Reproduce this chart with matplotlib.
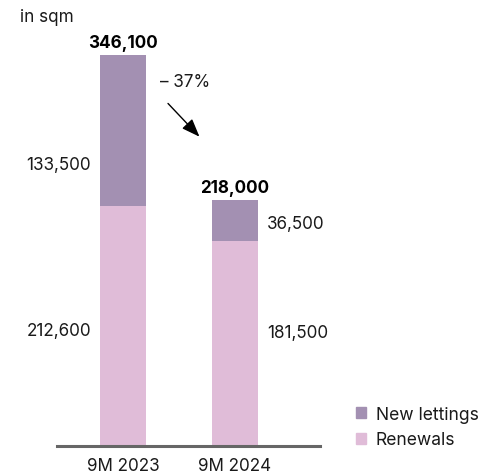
import matplotlib.pyplot as plt
from matplotlib.patches import Patch

plt.rcParams['font.family'] = ['Inter', 'DejaVu Sans']

# data
periods = ["9M 2023", "9M 2024"]
renewals = [212600, 181500]
new_lettings = [133500, 36500]
totals = [346100, 218000]
change_label = "\u2013 37%"

c_new = "#a390b2"
c_ren = "#e0bcd8"
txt = "#1a1a1a"
fs = 12.3

W, H = 482, 477
fig = plt.figure(figsize=(W / 100, H / 100), dpi=100)
# axes placed in pixel terms: baseline at y=447, left 57, right 320
ax = fig.add_axes([57 / W, (H - 447) / H, (320 - 57) / W, (447 - 20) / H])

x = [0, 1]
bw = 0.41
ax.bar(x, renewals, width=bw, color=c_ren, zorder=2)
ax.bar(x, new_lettings, width=bw, bottom=renewals, color=c_new, zorder=2)

ax.set_xlim(-0.589, 1.759)
ax.set_ylim(0, totals[0] * 427 / 391)

for s in ["top", "right", "left"]:
    ax.spines[s].set_visible(False)
ax.spines["bottom"].set_color("#666666")
ax.spines["bottom"].set_linewidth(2.2)
ax.set_yticks([])
ax.set_xticks(x)
ax.set_xticklabels(periods, fontsize=fs, color=txt)
ax.tick_params(axis="x", length=0, pad=8)

# totals on top
for i in x:
    ax.text(i, totals[i] + 3500, f"{totals[i]:,}", ha="center", va="bottom",
            fontsize=fs, fontweight="bold", color="black")

# segment labels: left of first bar, right of second
off = bw / 2 + 0.08
ax.text(x[0] - off, renewals[0] + new_lettings[0] / 2 - 30000, f"{new_lettings[0]:,}",
        ha="right", va="center", fontsize=fs, color=txt)
ax.text(x[0] - off, renewals[0] / 2 - 4000, f"{renewals[0]:,}",
        ha="right", va="center", fontsize=fs, color=txt)
ax.text(x[1] + off, renewals[1] + new_lettings[1] / 2 - 3000, f"{new_lettings[1]:,}",
        ha="left", va="center", fontsize=fs, color=txt)
ax.text(x[1] + off, renewals[1] / 2 + 10000, f"{renewals[1]:,}",
        ha="left", va="center", fontsize=fs, color=txt)

# change annotation
ax.annotate("", xy=(0.7, 272000), xytext=(0.385, 305000),
            arrowprops=dict(arrowstyle="-|>,head_length=1.1,head_width=0.42",
                            color="black", lw=1))
ax.text(0.33, 323000, change_label, ha="left", va="center", fontsize=fs, color=txt)

fig.text(20 / W, 1 - 17 / H, "in sqm", ha="left", va="center", fontsize=fs, color=txt)

handles = [Patch(color=c_new, label="New lettings"), Patch(color=c_ren, label="Renewals")]
fig.legend(handles=handles, loc="center left", bbox_to_anchor=(340 / W, 1 - 428 / H),
           frameon=False, fontsize=12.6, handlelength=0.6, handleheight=0.6,
           handletextpad=0.55, labelspacing=0.5, labelcolor=txt)

fig.savefig("out.png", dpi=100)
